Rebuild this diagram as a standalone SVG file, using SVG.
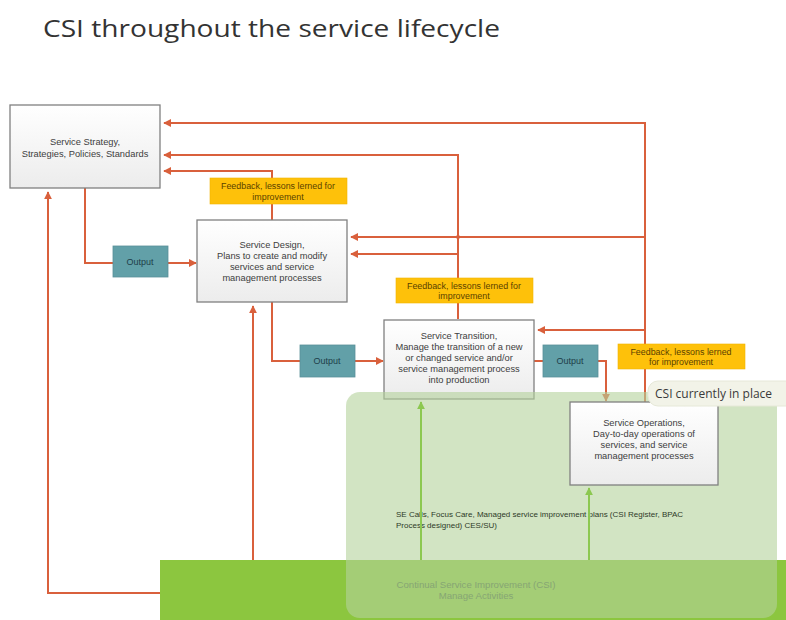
<svg xmlns="http://www.w3.org/2000/svg" width="786" height="620" viewBox="0 0 786 620">
<defs>
<linearGradient id="boxg" x1="0" y1="0" x2="0" y2="1">
<stop offset="0" stop-color="#ffffff"/>
<stop offset="1" stop-color="#ececec"/>
</linearGradient>
<marker id="arR" viewBox="0 0 10 10" refX="9" refY="5" markerWidth="8" markerHeight="8" orient="auto" markerUnits="userSpaceOnUse">
<path d="M0,0 L10,5 L0,10 z" fill="#d9603c"/>
</marker>
<marker id="arG" viewBox="0 0 10 10" refX="9" refY="5" markerWidth="8" markerHeight="8" orient="auto" markerUnits="userSpaceOnUse">
<path d="M0,0 L10,5 L0,10 z" fill="#8cc850"/>
</marker>
</defs>
<style>
.box{fill:url(#boxg);stroke:#808080;stroke-width:1.3}
.out{fill:#62a0a8;stroke:#5a9098;stroke-width:0.8}
.fb{fill:#fec10a;stroke:#f0b400;stroke-width:0.6}
.t{font-family:"Liberation Sans",sans-serif;font-size:9.3px;fill:#404040;text-anchor:middle}
.to{font-family:"Liberation Sans",sans-serif;font-size:9px;fill:#1e3e48;text-anchor:middle}
.tf{font-family:"Liberation Sans",sans-serif;font-size:8.9px;fill:#5a4200;text-anchor:middle}
.r{fill:none;stroke:#d9603c;stroke-width:2}
.g{fill:none;stroke:#8cc850;stroke-width:2}
</style>
<rect width="786" height="620" fill="#ffffff"/>
<text x="43" y="37" font-family="'Open Sans','Liberation Sans',sans-serif" font-size="23" fill="#333333" textLength="457" lengthAdjust="spacingAndGlyphs">CSI throughout the service lifecycle</text>

<g id="csi-bar">
<rect x="160" y="560" width="626" height="60" fill="#8cc63f"/>
</g>

<g id="connectors">
<polyline class="r" points="645,402 645,123 164,123" marker-end="url(#arR)"/>
<polyline class="r" points="458,278 458,155 164,155" marker-end="url(#arR)"/>
<polyline class="r" points="272,178 272,171 164,171" marker-end="url(#arR)"/>
<line class="r" x1="272" y1="204" x2="272" y2="220"/>
<polyline class="r" points="645,237 351,237" marker-end="url(#arR)"/>
<circle cx="458" cy="237" r="2" fill="#d9603c"/>
<polyline class="r" points="458,254 351,254" marker-end="url(#arR)"/>
<line class="r" x1="458" y1="303" x2="458" y2="319"/>
<polyline class="r" points="645,330 538,330" marker-end="url(#arR)"/>
<polyline class="r" points="85,188 85,263 113,263"/>
<polyline class="r" points="168,263 196,263" marker-end="url(#arR)"/>
<polyline class="r" points="272,302 272,361 300,361"/>
<polyline class="r" points="355,361 383,361" marker-end="url(#arR)"/>
<polyline class="r" points="534,361 543,361"/>
<polyline class="r" points="598,361 606,361 606,401" marker-end="url(#arR)"/>
<polyline class="r" points="160,593 48,593 48,192" marker-end="url(#arR)"/>
<polyline class="r" points="253,560 253,306" marker-end="url(#arR)"/>
</g>

<g id="strategy">
<rect class="box" x="10" y="105" width="150" height="83"/>
<text class="t" x="85" y="145">Service Strategy,</text>
<text class="t" x="85" y="157">Strategies, Policies, Standards</text>
</g>

<g id="feedback1">
<rect class="fb" x="210" y="178" width="137" height="26"/>
<text class="tf" x="278" y="189">Feedback, lessons lerned for</text>
<text class="tf" x="278" y="200">improvement</text>
</g>

<g id="design">
<rect class="box" x="197" y="220" width="150" height="82"/>
<text class="t" x="272" y="248">Service Design,</text>
<text class="t" x="272" y="259">Plans to create  and modify</text>
<text class="t" x="272" y="270">services and service</text>
<text class="t" x="272" y="281">management processes</text>
</g>

<g id="output1">
<rect class="out" x="113" y="246" width="55" height="31"/>
<text class="to" x="140" y="265">Output</text>
</g>

<g id="feedback2">
<rect class="fb" x="396" y="278" width="137" height="25"/>
<text class="tf" x="464" y="288.5">Feedback, lessons lerned for</text>
<text class="tf" x="464" y="299">improvement</text>
</g>

<g id="output2">
<rect class="out" x="300" y="345" width="55" height="32"/>
<text class="to" x="327" y="364">Output</text>
</g>

<g id="transition">
<rect class="box" x="384" y="320" width="150" height="79"/>
<text class="t" x="459" y="339">Service Transition,</text>
<text class="t" x="459" y="350">Manage the transition of a new</text>
<text class="t" x="459" y="361">or changed service and/or</text>
<text class="t" x="459" y="372">service management process</text>
<text class="t" x="459" y="383">into production</text>
</g>

<g id="output3">
<rect class="out" x="543" y="345" width="55" height="32"/>
<text class="to" x="570" y="364">Output</text>
</g>

<g id="csi-area">
<rect x="346" y="392" width="431" height="226" rx="14" fill="rgb(180,210,155)" fill-opacity="0.6"/>
<text x="396" y="517" font-family="'Liberation Sans',sans-serif" font-size="8" fill="#2e3a28">SE Calls, Focus Care, Managed service improvement plans (CSI Register, BPAC</text>
<text x="396" y="528" font-family="'Liberation Sans',sans-serif" font-size="8" fill="#2e3a28">Process designed) CES/SU)</text>
<text x="476" y="588" font-family="'Liberation Sans',sans-serif" font-size="9.6" fill="#86a574" text-anchor="middle">Continual Service Improvement (CSI)</text>
<text x="476" y="599" font-family="'Liberation Sans',sans-serif" font-size="9.6" fill="#86a574" text-anchor="middle">Manage Activities</text>
</g>

<g id="green-connectors">
<line class="g" x1="421" y1="560" x2="421" y2="402" marker-end="url(#arG)"/>
<line class="g" x1="589" y1="560" x2="589" y2="488" marker-end="url(#arG)"/>
</g>

<g id="operations">
<rect class="box" x="570" y="402" width="148" height="83"/>
<text class="t" x="644" y="426">Service Operations,</text>
<text class="t" x="644" y="437">Day-to-day operations of</text>
<text class="t" x="644" y="448">services, and service</text>
<text class="t" x="644" y="459">management processes</text>
</g>

<g id="feedback3">
<rect class="fb" x="618" y="344" width="127" height="25"/>
<text class="tf" x="681" y="354.5">Feedback, lessons lerned</text>
<text class="tf" x="681" y="365">for improvement</text>
</g>

<g id="csi-label">
<rect x="648" y="381" width="150" height="25" rx="10" fill="#f2f3e8" stroke="#e6e8d8" stroke-width="1"/>
<text x="655" y="398" font-family="'Open Sans','Liberation Sans',sans-serif" font-size="12" fill="#3a3a3a">CSI currently in place</text>
</g>
</svg>
